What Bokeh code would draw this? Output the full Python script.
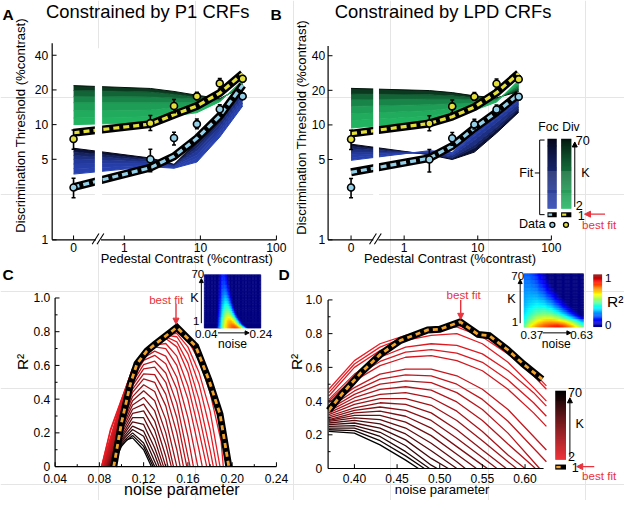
import numpy as np
from math import log10, pi
from bokeh.plotting import figure
from bokeh.models import (Range1d, LogScale, LinearScale, LinearColorMapper,
                          ColumnDataSource, Arrow, NormalHead)
from bokeh.core.properties import value
from bokeh.embed import file_html
from bokeh.resources import INLINE

# ------------------------------------------------------------------ data
# Panels A & B: discrimination thresholds (%contrast) vs pedestal contrast
PEDESTAL = [0, 2.2, 4.5, 9, 18, 36]
DIV_DATA = [7.5, 10.3, 14.5, 17.6, 22.8, 25.0]
DIV_ERR_LO = [6.1, 8.9, 12.7, 16.5, 20.4, 23.6]
DIV_ERR_HI = [9.0, 12.0, 16.5, 19.1, 25.1, 26.6]
FOC_DATA = [2.85, 5.0, 7.65, 10.1, 13.6, 17.6]
FOC_ERR_LO = [2.32, 3.9, 6.66, 9.2, 12.3, 16.6]
FOC_ERR_HI = [3.42, 6.1, 8.6, 11.2, 14.9, 18.7]

A_DIV_BEST = [8.5, 10.1, 12.2, 14.5, 18.8, 27.7]
A_FOC_BEST = [2.87, 4.23, 5.31, 7.6, 11.9, 22.0]
B_DIV_BEST = [8.4, 10.3, 11.8, 14.3, 19.1, 28.1]
B_FOC_BEST = [3.87, 5.14, 6.56, 9.37, 12.9, 18.5]

FAN_K = [70, 50, 35, 20, 10, 5, 2]
A_DIV_FAN = [[21.8, 20.6, 19.4, 18.0, 16.8, 21.3],
             [19.8, 19.2, 18.3, 17.3, 16.6, 21.8],
             [17.6, 17.4, 17.0, 16.6, 16.4, 22.2],
             [15.5, 15.5, 15.5, 15.5, 16.2, 22.8],
             [13.2, 13.4, 14.0, 14.4, 16.0, 23.4],
             [11.4, 11.7, 12.8, 13.4, 15.9, 23.9],
             [10.0, 10.4, 11.9, 12.7, 15.8, 24.4]]
A_FOC_FAN = [[6.24, 5.13, 4.52, 7.1, 11.5, 20.7],
             [5.8, 5.0, 4.47, 6.7, 10.8, 19.6],
             [5.4, 4.9, 4.42, 6.3, 10.2, 18.6],
             [5.0, 4.75, 4.38, 5.9, 9.5, 17.5],
             [4.55, 4.6, 4.32, 5.45, 8.8, 16.4],
             [4.15, 4.45, 4.25, 5.1, 8.3, 15.4],
             [3.72, 4.32, 4.18, 4.73, 7.8, 14.5]]
B_DIV_FAN = [[20.8, 19.9, 19.1, 17.9, 17.2, 19.5],
             [18.6, 18.3, 17.9, 17.2, 16.9, 20.5],
             [16.6, 16.8, 16.8, 16.5, 16.7, 21.4],
             [14.5, 15.0, 15.3, 15.5, 16.5, 22.2],
             [12.5, 13.3, 14.0, 14.6, 16.2, 23.1],
             [10.9, 11.9, 12.8, 13.9, 16.0, 23.8],
             [9.4, 10.7, 11.8, 13.4, 15.8, 24.6]]
B_FOC_FAN = [[6.8, 5.5, 5.0, 5.8, 8.5, 12.9],
             [6.5, 5.55, 5.1, 6.3, 9.1, 13.6],
             [6.2, 5.6, 5.2, 6.7, 9.6, 14.2],
             [5.8, 5.7, 5.4, 7.4, 10.5, 15.2],
             [5.5, 5.78, 5.55, 8.0, 11.3, 16.0],
             [5.2, 5.85, 5.65, 8.5, 11.9, 16.7],
             [4.92, 5.97, 5.77, 9.1, 12.7, 17.4]]

# Panel C: R^2 vs noise parameter (P1 CRFs), one curve per K
C_K = [70, 65, 60, 55, 50, 46, 42, 38, 35, 31, 28, 25, 22, 19, 17, 15, 13, 11, 9, 7, 6, 5, 4, 3, 2]
C_X = [[0.092, 0.10, 0.105, 0.11, 0.12, 0.127],
       [0.0915, 0.10, 0.11, 0.12, 0.1285],
       [0.091, 0.10, 0.11, 0.12, 0.13],
       [0.0905, 0.10, 0.11, 0.12, 0.13, 0.132],
       [0.090, 0.10, 0.11, 0.12, 0.13, 0.134],
       [0.0895, 0.10, 0.11, 0.12, 0.13, 0.136],
       [0.089, 0.10, 0.11, 0.12, 0.13, 0.138],
       [0.0885, 0.10, 0.11, 0.12, 0.13, 0.14],
       [0.088, 0.10, 0.11, 0.12, 0.13, 0.14, 0.142],
       [0.0875, 0.10, 0.11, 0.12, 0.13, 0.14, 0.145],
       [0.087, 0.10, 0.11, 0.12, 0.13, 0.14, 0.147],
       [0.0865, 0.10, 0.11, 0.12, 0.13, 0.14, 0.15],
       [0.086, 0.10, 0.11, 0.12, 0.13, 0.14, 0.15, 0.153],
       [0.0855, 0.10, 0.11, 0.12, 0.13, 0.14, 0.15, 0.156],
       [0.085, 0.10, 0.11, 0.12, 0.13, 0.14, 0.15, 0.159],
       [0.0845, 0.10, 0.11, 0.12, 0.13, 0.14, 0.15, 0.16, 0.162],
       [0.084, 0.10, 0.11, 0.12, 0.13, 0.14, 0.15, 0.16, 0.165],
       [0.084, 0.10, 0.11, 0.12, 0.13, 0.14, 0.15, 0.16, 0.169],
       [0.084, 0.10, 0.11, 0.12, 0.13, 0.14, 0.15, 0.16, 0.17, 0.173],
       [0.0835, 0.10, 0.11, 0.12, 0.13, 0.14, 0.15, 0.16, 0.17, 0.177],
       [0.083, 0.10, 0.11, 0.12, 0.13, 0.14, 0.15, 0.16, 0.17, 0.18],
       [0.0825, 0.10, 0.11, 0.12, 0.13, 0.14, 0.15, 0.16, 0.17, 0.18, 0.183],
       [0.082, 0.10, 0.11, 0.12, 0.13, 0.14, 0.15, 0.16, 0.17, 0.18, 0.186],
       [0.082, 0.09, 0.10, 0.11, 0.12, 0.13, 0.14, 0.15, 0.16, 0.17, 0.18, 0.189],
       [0.082, 0.09, 0.10, 0.11, 0.12, 0.13, 0.14, 0.15, 0.16, 0.17, 0.18, 0.19, 0.192]]
C_Y = [[0, 0.12, 0.16, 0.17, 0.10, 0],
       [0, 0.13, 0.185, 0.12, 0],
       [0, 0.14, 0.20, 0.14, 0],
       [0, 0.15, 0.22, 0.18, 0.03, 0],
       [0, 0.16, 0.24, 0.21, 0.07, 0],
       [0, 0.17, 0.265, 0.25, 0.11, 0],
       [0, 0.18, 0.29, 0.29, 0.16, 0],
       [0, 0.195, 0.315, 0.33, 0.215, 0],
       [0, 0.21, 0.34, 0.37, 0.27, 0.06, 0],
       [0, 0.225, 0.365, 0.41, 0.33, 0.13, 0],
       [0, 0.24, 0.39, 0.45, 0.39, 0.20, 0],
       [0, 0.255, 0.415, 0.485, 0.445, 0.28, 0],
       [0, 0.27, 0.44, 0.52, 0.50, 0.36, 0.10, 0],
       [0, 0.285, 0.46, 0.55, 0.545, 0.43, 0.20, 0],
       [0, 0.30, 0.48, 0.58, 0.59, 0.50, 0.29, 0],
       [0, 0.315, 0.50, 0.605, 0.625, 0.555, 0.375, 0.06, 0],
       [0, 0.33, 0.52, 0.63, 0.66, 0.61, 0.46, 0.18, 0],
       [0, 0.345, 0.535, 0.645, 0.685, 0.655, 0.53, 0.29, 0],
       [0, 0.36, 0.55, 0.66, 0.71, 0.70, 0.60, 0.40, 0.10, 0],
       [0, 0.37, 0.56, 0.665, 0.72, 0.73, 0.655, 0.48, 0.21, 0],
       [0, 0.38, 0.57, 0.67, 0.73, 0.76, 0.71, 0.56, 0.31, 0],
       [0, 0.385, 0.575, 0.675, 0.735, 0.77, 0.74, 0.615, 0.40, 0.10, 0],
       [0, 0.39, 0.58, 0.68, 0.74, 0.78, 0.77, 0.67, 0.49, 0.22, 0],
       [0, 0.21, 0.395, 0.58, 0.68, 0.74, 0.78, 0.79, 0.71, 0.56, 0.33, 0],
       [0, 0.22, 0.40, 0.58, 0.68, 0.74, 0.78, 0.80, 0.75, 0.63, 0.44, 0.15, 0]]
C_BEST_X = [0.093, 0.10, 0.108, 0.114, 0.123, 0.130, 0.150, 0.167, 0.179, 0.189, 0.197]
C_BEST_Y = [0, 0.26, 0.49, 0.61, 0.686, 0.724, 0.826, 0.714, 0.513, 0.312, 0]

# Panel D: R^2 vs noise parameter (LPD CRFs)
DX = [0.37, 0.40, 0.43, 0.46, 0.49, 0.52, 0.55, 0.58, 0.61, 0.625]
D_K = [70, 65, 60, 55, 50, 46, 42, 38, 35, 31, 28, 25, 22, 19, 17, 15, 13, 10, 8, 7, 5, 3, 2]
D_X = [[0.37, 0.40, 0.43, 0.46, 0.475],
       [0.37, 0.40, 0.43, 0.46, 0.482],
       [0.37, 0.40, 0.43, 0.46, 0.488],
       [0.37, 0.40, 0.43, 0.46, 0.49, 0.497],
       [0.37, 0.40, 0.43, 0.46, 0.49, 0.51],
       [0.37, 0.40, 0.43, 0.46, 0.49, 0.52],
       [0.37, 0.40, 0.43, 0.46, 0.49, 0.52, 0.53],
       [0.37, 0.40, 0.43, 0.46, 0.49, 0.52, 0.543],
       [0.37, 0.40, 0.43, 0.46, 0.49, 0.52, 0.55, 0.556],
       [0.37, 0.40, 0.43, 0.46, 0.49, 0.52, 0.55, 0.567],
       [0.37, 0.40, 0.43, 0.46, 0.49, 0.52, 0.55, 0.578],
       [0.37, 0.40, 0.43, 0.46, 0.49, 0.52, 0.55, 0.58, 0.59],
       [0.37, 0.40, 0.43, 0.46, 0.49, 0.52, 0.55, 0.58, 0.60],
       [0.37, 0.40, 0.43, 0.46, 0.49, 0.52, 0.55, 0.58, 0.61, 0.612],
       [0.37, 0.40, 0.43, 0.46, 0.49, 0.52, 0.55, 0.58, 0.61, 0.617],
       DX, DX, DX, DX, DX, DX, DX, DX]
D_Y = [[0.22, 0.21, 0.14, 0.05, 0],
       [0.23, 0.225, 0.165, 0.075, 0],
       [0.24, 0.24, 0.19, 0.10, 0],
       [0.25, 0.255, 0.215, 0.135, 0.02, 0],
       [0.26, 0.27, 0.24, 0.17, 0.06, 0],
       [0.27, 0.285, 0.265, 0.205, 0.105, 0],
       [0.28, 0.30, 0.29, 0.24, 0.15, 0.04, 0],
       [0.285, 0.315, 0.315, 0.275, 0.195, 0.085, 0],
       [0.29, 0.33, 0.34, 0.31, 0.24, 0.13, 0.02, 0],
       [0.30, 0.345, 0.365, 0.345, 0.285, 0.18, 0.065, 0],
       [0.31, 0.36, 0.39, 0.38, 0.33, 0.23, 0.11, 0],
       [0.32, 0.38, 0.415, 0.415, 0.375, 0.285, 0.165, 0.04, 0],
       [0.33, 0.40, 0.44, 0.45, 0.42, 0.34, 0.22, 0.08, 0],
       [0.34, 0.42, 0.47, 0.485, 0.465, 0.395, 0.285, 0.145, 0.01, 0],
       [0.35, 0.44, 0.50, 0.52, 0.51, 0.45, 0.35, 0.21, 0.04, 0],
       [0.36, 0.46, 0.53, 0.555, 0.55, 0.50, 0.41, 0.28, 0.12, 0.04],
       [0.37, 0.48, 0.56, 0.59, 0.59, 0.55, 0.47, 0.35, 0.19, 0.11],
       [0.39, 0.52, 0.61, 0.66, 0.67, 0.64, 0.58, 0.47, 0.33, 0.25],
       [0.40, 0.54, 0.635, 0.69, 0.705, 0.685, 0.63, 0.525, 0.39, 0.31],
       [0.41, 0.56, 0.66, 0.72, 0.74, 0.73, 0.68, 0.58, 0.45, 0.37],
       [0.43, 0.60, 0.70, 0.76, 0.79, 0.80, 0.74, 0.63, 0.48, 0.40],
       [0.45, 0.62, 0.72, 0.78, 0.82, 0.84, 0.78, 0.68, 0.55, 0.47],
       [0.47, 0.64, 0.74, 0.79, 0.83, 0.85, 0.80, 0.70, 0.57, 0.49]]
D_BEST_X = [0.37, 0.385, 0.408, 0.431, 0.454, 0.486, 0.50, 0.524, 0.545, 0.558, 0.579, 0.598, 0.62]
D_BEST_Y = [0.345, 0.44, 0.57, 0.68, 0.76, 0.822, 0.826, 0.87, 0.795, 0.788, 0.707, 0.62, 0.53]

# tick labels
AB_XTICK_LABELS = ["0", "1", "10", "100"]
AB_YTICKS = [1, 5, 10, 20, 40]
C_XTICKS = [0.04, 0.08, 0.12, 0.16, 0.20, 0.24]
D_XTICKS = [0.40, 0.45, 0.50, 0.55, 0.60]
R2_TICKS = [0, 0.2, 0.4, 0.6, 0.8, 1.0]
R2_LABELS = ["0", "0.2", "0.4", "0.6", "0.8", "1.0"]

# ------------------------------------------------------------------ styling
FONT = value("Liberation Sans")
FS = 0.97
RED = "#e8323c"
YEL = "#e2de3a"
LBLUE = "#94d0e8"
ORANGE = "#f0a22e"
GRN = ((3, 22, 12), (34, 182, 98), 0.8)
BLU = ((3, 5, 24), (40, 66, 178), 0.8)
RDK = ((0, 0, 0), (236, 28, 36), 1.0)


def ramp(c, k):
    t = min(max((70 - k) / 68.0, 0), 1) ** c[2]
    rgb = [int(round(d + (b - d) * t)) for d, b in zip(c[0], c[1])]
    return "#%02x%02x%02x" % tuple(rgb)


def jet_hex(t):
    r = min(max(1.5 - abs(4 * t - 3), 0), 1)
    g = min(max(1.5 - abs(4 * t - 2), 0), 1)
    b = min(max(1.5 - abs(4 * t - 1), 0), 1)
    return "#%02x%02x%02x" % (int(r * 255), int(g * 255), int(b * 255))


JET = [jet_hex(i / 255) for i in range(256)]
MAPPER = LinearColorMapper(palette=JET, low=0, high=1)

# ------------------------------------------------------------------ geometry
REF_W, REF_H = 640, 516
# (value a, pixel a, value b, pixel b, log?) in reference pixel space
GEOM = {
    "A": {"x": (1, 127, 100, 283, True), "y": (1, 247, 40, 56.5, True)},
    "B": {"x": (1, 414, 100, 565, True), "y": (1, 247, 40, 57, True)},
    "C": {"x": (0.04, 56, 0.24, 283, False), "y": (0, 481, 1, 307, False)},
    "D": {"x": (0.40, 363, 0.60, 538, False), "y": (0, 483, 1, 309, False)},
    "Ci": {"x": (0.04, 209, 0.24, 267, False), "y": (1, 338, 70, 283, False)},
    "Di": {"x": (0.37, 537, 0.63, 598, False), "y": (1, 337, 70, 282, False)},
}
ZERO_POS = {"A": 0.215, "B": 0.19}
BREAK = {"A": (0.41, 0.51), "B": (0.38, 0.455)}


def _f(lg):
    return log10 if lg else (lambda t: t)


def to_px(spec, v):
    a, pa, b, pb, lg = spec
    f = _f(lg)
    return pa + (f(v) - f(a)) * (pb - pa) / (f(b) - f(a))


def make_range(spec, lo, hi):
    a, pa, b, pb, lg = spec
    f = _f(lg)
    k = (f(b) - f(a)) / (pb - pa)
    s0 = f(a) + (lo - pa) * k
    s1 = f(a) + (hi - pa) * k
    if lg:
        s0, s1 = 10 ** s0, 10 ** s1
    return Range1d(start=s0, end=s1)


p = figure(width=624, height=500, x_range=Range1d(0, REF_W), y_range=Range1d(REF_H, 0),
           output_backend="svg", toolbar_location=None, min_border=0,
           x_axis_location=None, y_axis_location=None)
p.outline_line_color = None
p.background_fill_color = "white"

xr, yr, xsc, ysc = {}, {}, {}, {}
for n, g in GEOM.items():
    xr[n] = make_range(g["x"], 0, REF_W)
    yr[n] = make_range(g["y"], REF_H, 0)
    xsc[n] = LogScale() if g["x"][4] else LinearScale()
    ysc[n] = LogScale() if g["y"][4] else LinearScale()
p.extra_x_ranges = xr
p.extra_y_ranges = yr
p.extra_x_scales = xsc
p.extra_y_scales = ysc


def K(n):
    return dict(x_range_name=n, y_range_name=n)


def T(x, y, s, size, align="center", base="middle", color="black", angle=0.0, bold=False):
    p.text(x=[x], y=[y], text=[s], text_font=FONT, text_font_size=value("%.1fpx" % (size * FS)),
           text_align=align, text_baseline=base, text_color=color, angle=angle,
           text_font_style="bold" if bold else "normal")


def arrow(x0, y0, x1, y1, color="black", size=5, lw=1.0):
    p.add_layout(Arrow(end=NormalHead(size=size, fill_color=color, line_color=color, line_width=1),
                       x_start=x0, y_start=y0, x_end=x1, y_end=y1,
                       line_color=color, line_width=lw))


def axes(name, ax_x, ax_y, x_end, y_top, xt, xl, yt, yl, xminor=(), yminor=(),
         fs=12.5, ygap=4, xgap=3):
    gx, gy = GEOM[name]["x"], GEOM[name]["y"]
    p.segment(x0=[ax_x, ax_x], y0=[ax_y, ax_y], x1=[x_end, ax_x], y1=[ax_y, y_top],
              line_color="black", line_width=1.2)
    tx = [to_px(gx, t) for t in xt]
    ty = [to_px(gy, t) for t in yt]
    p.segment(x0=tx, y0=[ax_y] * len(tx), x1=tx, y1=[ax_y - 4.5] * len(tx), line_color="black", line_width=1)
    p.segment(x0=[ax_x] * len(ty), y0=ty, x1=[ax_x + 4.5] * len(ty), y1=ty, line_color="black", line_width=1)
    if xminor:
        mx = [to_px(gx, t) for t in xminor]
        p.segment(x0=mx, y0=[ax_y] * len(mx), x1=mx, y1=[ax_y - 2.5] * len(mx), line_color="black", line_width=1)
    if yminor:
        my = [to_px(gy, t) for t in yminor]
        p.segment(x0=[ax_x] * len(my), y0=my, x1=[ax_x + 2.5] * len(my), y1=my, line_color="black", line_width=1)
    p.text(x=tx, y=[ax_y + xgap] * len(tx), text=xl, text_font=FONT,
           text_font_size=value("%.1fpx" % (fs * FS)), text_align="center", text_baseline="top")
    p.text(x=[ax_x - ygap] * len(ty), y=ty, text=yl, text_font=FONT,
           text_font_size=value("%.1fpx" % (fs * FS)), text_align="right", text_baseline="middle")


def axis_break(x_mid, y):
    p.quad(left=[x_mid - 2.6], right=[x_mid + 2.6], top=[y - 2.5], bottom=[y + 2.5],
           fill_color="white", line_color=None)
    p.segment(x0=[x_mid - 6.5, x_mid - 1.5], y0=[y + 4.5, y + 4.5],
              x1=[x_mid + 0.5, x_mid + 5.5], y1=[y - 6.5, y - 6.5], line_color="black", line_width=1.1)


def thresholds(name, div_fan, foc_fan, div_best, foc_best):
    kw = K(name)
    xp = [ZERO_POS[name] if v == 0 else v for v in PEDESTAL]
    for fan_vals, cmap in ((div_fan, GRN), (foc_fan, BLU)):
        for i in range(len(FAN_K) - 1):
            kk = (FAN_K[i] + FAN_K[i + 1]) / 2
            p.varea(x=xp, y1=fan_vals[i], y2=fan_vals[i + 1], fill_color=ramp(cmap, kk), **kw)
        for kk, yv in zip(FAN_K, fan_vals):
            p.line(xp, yv, line_color=ramp(cmap, kk), line_width=1, **kw)
    for best, col in ((div_best, YEL), (foc_best, LBLUE)):
        p.line(xp, best, line_color="black", line_width=8, **kw)
        p.line(xp, best, line_color=col, line_width=3.2, line_dash="6 4", **kw)
    b0, b1 = BREAK[name]
    p.quad(left=[b0], right=[b1], bottom=[1.06], top=[46], fill_color="white", line_color=None, **kw)
    for d, lo, hi, col in ((DIV_DATA, DIV_ERR_LO, DIV_ERR_HI, YEL),
                           (FOC_DATA, FOC_ERR_LO, FOC_ERR_HI, LBLUE)):
        p.segment(x0=xp, y0=lo, x1=xp, y1=hi, line_color="black", line_width=1.6, **kw)
        p.scatter(xp + xp, lo + hi, marker="dash", size=4, line_color="black", line_width=1.5, **kw)
        p.scatter(xp, d, marker="circle", size=7, fill_color=col, line_color="black", line_width=1.6, **kw)
    return xp


def r2_fan(name, ks, xs, ys, bx, by):
    kw = K(name)
    order = sorted(range(len(ks)), key=lambda i: ks[i])
    for i in order:
        p.line(xs[i], ys[i], line_color=ramp(RDK, ks[i]), line_width=1.3, **kw)
    p.line(bx, by, line_color="black", line_width=7, line_join="miter", **kw)
    p.line(bx, by, line_color=ORANGE, line_width=2.8, line_dash="5 4", **kw)


def heat(name, ks, xs, ys, bx, by, x0, x1, ncol):
    rows = sorted([(1, bx, by)] + list(zip(ks, xs, ys)), key=lambda r: r[0])
    kv = [r[0] for r in rows]
    edges = [kv[0]] + [(kv[i] + kv[i + 1]) / 2 for i in range(len(kv) - 1)] + [kv[-1]]
    xe = np.linspace(x0, x1, ncol + 1)
    xc = (xe[:-1] + xe[1:]) / 2
    L, R, B, TT, V = [], [], [], [], []
    for i, (k, cx, cy) in enumerate(rows):
        v = np.interp(xc, cx, cy, left=cy[0], right=cy[-1])
        L += list(xe[:-1]); R += list(xe[1:])
        B += [edges[i]] * ncol; TT += [edges[i + 1]] * ncol
        V += list(np.clip(v, 0, 1))
    src = ColumnDataSource(dict(l=L, r=R, b=B, t=TT, v=V))
    p.quad(left="l", right="r", bottom="b", top="t", source=src,
           fill_color={"field": "v", "transform": MAPPER},
           line_color={"field": "v", "transform": MAPPER}, line_width=0.6, **K(name))


def kbar(x0, x1, ytop, ybot, cmap):
    n = 69
    h = (ybot - ytop) / n
    kk = list(range(2, 71))
    p.quad(left=[x0] * n, right=[x1] * n, bottom=[ybot - i * h for i in range(n)],
           top=[ybot - (i + 1) * h - 0.3 for i in range(n)],
           fill_color=[ramp(cmap, k) for k in kk], line_color=None)


def swatch(x0, x1, y, col):
    p.quad(left=[x0], right=[x1], top=[y - 2.6], bottom=[y + 2.6], fill_color="black", line_color=None)
    p.quad(left=[x0 + 1], right=[x0 + (x1 - x0) * 0.5], top=[y - 1.2], bottom=[y + 1.2],
           fill_color=col, line_color=None)


# ------------------------------------------------------------------ panel A
thresholds("A", A_DIV_FAN, A_FOC_FAN, A_DIV_BEST, A_FOC_BEST)
axes("A", 53, 247, 283, 44, [ZERO_POS["A"], 1, 10, 100], AB_XTICK_LABELS,
     AB_YTICKS, [str(v) for v in AB_YTICKS], ygap=4, xgap=3)
axis_break(100.5, 247)
T(2, 14, "A", 16, align="left", bold=True)
T(151, 11, "Constrained by P1 CRFs", 19)
T(21, 129, "Discrimination Threshold (%contrast)", 13.5, angle=pi / 2)
T(191, 266, "Pedestal Contrast (%contrast)", 13.3)

# ------------------------------------------------------------------ panel B
thresholds("B", B_DIV_FAN, B_FOC_FAN, B_DIV_BEST, B_FOC_BEST)
axes("B", 336, 247, 565, 47, [ZERO_POS["B"], 1, 10, 100], AB_XTICK_LABELS,
     AB_YTICKS, [str(v) for v in AB_YTICKS], ygap=3, xgap=3)
axis_break(385, 247)
T(277, 14, "B", 16, align="left", bold=True)
T(454, 11, "Constrained by LPD CRFs", 19)
T(309, 131, "Discrimination Threshold (%contrast)", 13.5, angle=pi / 2)
T(461, 266, "Pedestal Contrast (%contrast)", 13.3)

# legend of A/B
T(562, 131, "Foc", 12.5)
T(585, 131, "Div", 12.5)
kbar(561, 570.5, 143, 215, BLU)
kbar(575, 585.5, 143, 215, GRN)
p.segment(x0=[553, 553, 553, 548], y0=[144, 144, 221, 178], x1=[553, 558, 558, 553],
          y1=[221, 144, 221, 178], line_color="black", line_width=1)
T(546.5, 178, "Fit", 13, align="right")
arrow(589, 213, 589, 146, size=5)
T(590, 144, "70", 13, align="left")
T(600, 178, "K", 13)
T(590, 212, "2", 13, align="left")
swatch(561, 570.5, 221, LBLUE)
swatch(575, 585.5, 221, YEL)
T(592, 221.5, "1", 13, align="left")
arrow(620, 220.5, 599, 220.5, color=RED, size=6, lw=1.4)
T(614, 231, "best fit", 12, color=RED)
T(559, 231, "Data", 13, align="right")
p.scatter([566, 580], [231.5, 231.5], marker="circle", size=5,
          fill_color=[LBLUE, YEL], line_color="black", line_width=1.3)

# ------------------------------------------------------------------ panel C
r2_fan("C", C_K, C_X, C_Y, C_BEST_X, C_BEST_Y)
axes("C", 56, 481, 283, 307, C_XTICKS, ["%.2f" % v for v in C_XTICKS],
     R2_TICKS, R2_LABELS,
     xminor=[0.06, 0.10, 0.14, 0.18, 0.22], yminor=[0.1, 0.3, 0.5, 0.7, 0.9],
     ygap=5, xgap=8)
T(2, 283, "C", 16, align="left", bold=True)
T(23, 373, "R\u00b2", 16, angle=pi / 2)
T(186, 505, "noise parameter", 16.5)
T(170, 309, "best fit", 12, color=RED)
arrow(180, 313, 180, 334, color=RED, size=6, lw=1.4)
# inset C
heat("Ci", C_K, C_X, C_Y, C_BEST_X, C_BEST_Y, 0.04, 0.24, 40)
arrow(206, 333, 206, 287, size=4)
T(209, 282, "70", 12, align="right")
T(199, 307, "K", 13)
T(204, 331, "1", 12, align="right")
arrow(223, 343, 255, 343, size=4)
T(211, 344, "0.04", 12)
T(267, 344, "0.24", 12)
T(238, 354, "noise", 12.5)

# ------------------------------------------------------------------ panel D
r2_fan("D", D_K, D_X, D_Y, D_BEST_X, D_BEST_Y)
axes("D", 336, 483, 557, 309, D_XTICKS, ["%.2f" % v for v in D_XTICKS],
     R2_TICKS, R2_LABELS,
     yminor=[0.1, 0.3, 0.5, 0.7, 0.9], ygap=6, xgap=6)
T(285, 283, "D", 16, align="left", bold=True)
T(304, 373, "R\u00b2", 16, angle=pi / 2)
T(453, 505, "noise parameter", 13.5)
T(475, 303, "best fit", 12, color=RED)
arrow(472, 309, 472, 329, color=RED, size=6, lw=1.4)
# inset D
heat("Di", D_K, D_X, D_Y, D_BEST_X, D_BEST_Y, 0.37, 0.63, 52)
arrow(533, 333, 533, 288, size=4)
T(537, 284, "70", 12, align="right")
T(524, 308, "K", 13)
T(531, 332, "1", 12, align="right")
arrow(556, 343, 585, 343, size=4)
T(545, 345, "0.37", 12)
T(596, 345, "0.63", 12)
T(570, 354, "noise", 12.5)
# R^2 colour bar
nb = 60
cb_top, cb_bot = 283, 337
hb = (cb_bot - cb_top) / nb
p.quad(left=[608] * nb, right=[617] * nb, bottom=[cb_bot - i * hb for i in range(nb)],
       top=[cb_bot - (i + 1) * hb - 0.3 for i in range(nb)],
       fill_color=[JET[int((i + 0.5) / nb * 255)] for i in range(nb)], line_color=None)
T(620, 286, "1", 12, align="left")
T(622, 311, "R\u00b2", 16, align="left")
T(620, 335, "0", 12, align="left")
# K legend D
kbar(569, 580, 403, 474, RDK)
arrow(584, 471, 584, 410, size=5)
T(582, 405, "70", 13, align="left")
T(594, 437, "K", 13)
T(582, 471, "2", 13, align="left")
swatch(569, 580, 481.5, ORANGE)
T(586, 482, "1", 13, align="left")
arrow(609, 481, 591, 481, color=RED, size=6, lw=1.4)
T(614, 490, "best fit", 12, color=RED)

open("out.html", "w").write(file_html(p, INLINE, title="Constrained CRF fits"))
